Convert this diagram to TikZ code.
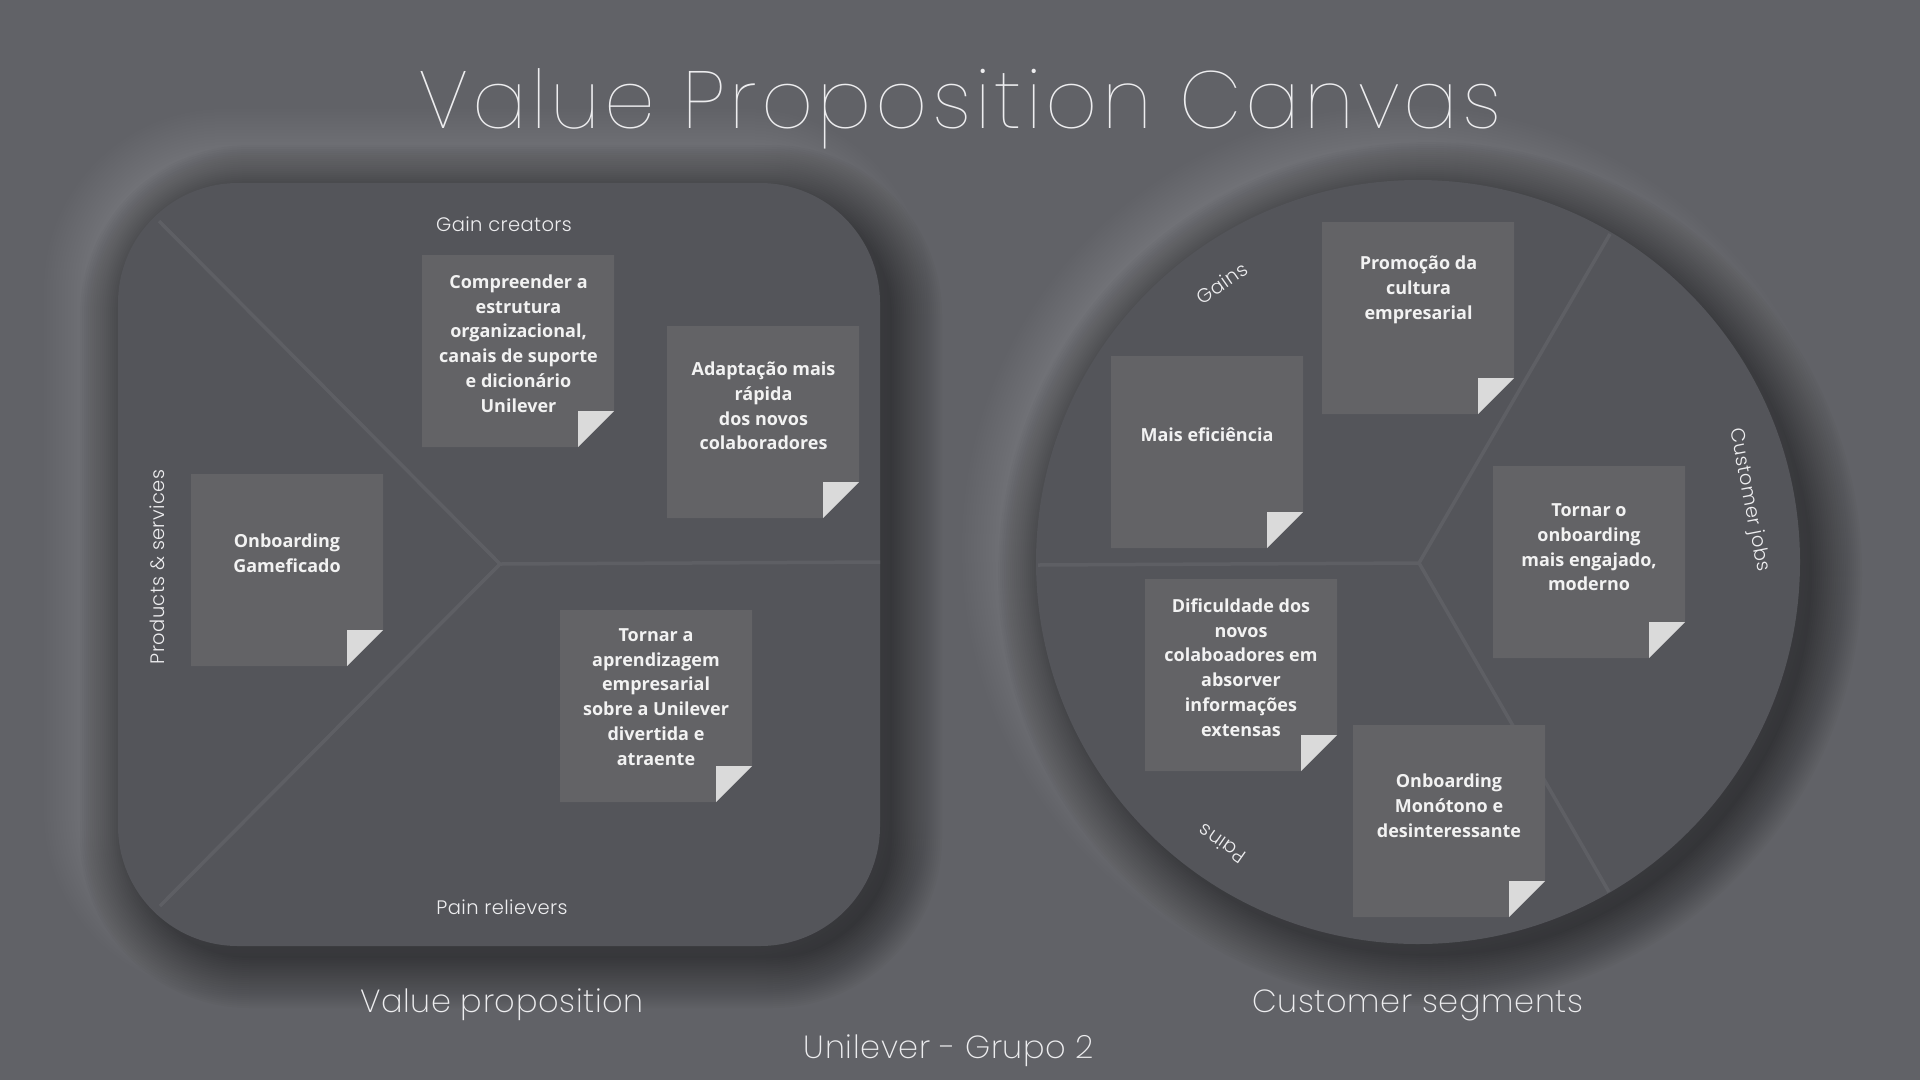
\documentclass[tikz,border=0pt]{standalone}
\usepackage{fontspec}
\newfontfamily\popl[LetterSpace=2]{Poppins Light}
\newfontfamily\popxl[LetterSpace=2]{Poppins ExtraLight}
\newfontfamily\poptitle[LetterSpace=5]{Poppins Thin}
\newfontfamily\osans{Open Sans}
\definecolor{bgc}{HTML}{616267}
\definecolor{shapec}{HTML}{54555A}
\definecolor{linec}{HTML}{5E5F64}
\definecolor{notec}{HTML}{636366}
\definecolor{foldc}{HTML}{DADADA}
\definecolor{txtc}{HTML}{F2F2F2}
\definecolor{lblc}{HTML}{EDEDEF}
\tikzset{
  notebg/.style={minimum width=192pt,minimum height=192pt,inner sep=0pt,outer sep=0pt,anchor=north west},
  notetext/.style={font=\osans\bfseries\fontsize{18}{24.8}\selectfont,text=txtc,align=center,inner sep=0pt},
  lbl/.style={font=\popl\fontsize{19.5}{22}\selectfont,text=lblc,inner sep=0pt},
  biglbl/.style={font=\popxl\fontsize{32}{40}\selectfont,text=lblc,inner sep=0pt,anchor=base},
  divline/.style={draw=linec,line width=3.5pt},
}
\newcommand\stickynote[3]{%
  \node[notebg] (#1) at (#2,#3) {};
  \fill[notec] (#1.north west) -- (#1.north east) -- ([yshift=36pt]#1.south east)
     -- ([xshift=-36pt]#1.south east) -- (#1.south west) -- cycle;
  \fill[foldc] ([xshift=-36pt,yshift=36pt]#1.south east) -- ([yshift=36pt]#1.south east)
     -- ([xshift=-36pt]#1.south east) -- cycle;
}
\begin{document}
\begin{tikzpicture}[x=1pt,y=-1pt]
\fill[bgc] (0,0) rectangle (1920,1080);
\useasboundingbox (0,0) rectangle (1920,1080);
% soft shadows
\foreach \e in {0,3,...,60} {
  \pgfmathsetmacro\rr{120+\e}
  \fill[white,opacity=0.008,rounded corners=\rr pt] (118-14-\e,183-14-\e) rectangle (880-14+\e,946-14+\e);
  \fill[white,opacity=0.008] (1418-14,562-14) circle[radius=382+\e];
}
\foreach \e in {0,2,...,50} {
  \pgfmathsetmacro\rr{120+\e}
  \fill[black,opacity=0.018,rounded corners=\rr pt] (118+12-\e,183+12-\e) rectangle (880+12+\e,946+12+\e);
  \fill[black,opacity=0.018] (1418+12,562+12) circle[radius=382+\e];
}
% main shapes
\node[fill=shapec,rounded corners=120pt,minimum width=762pt,minimum height=763pt,inner sep=0pt] (vp) at (499,564.5) {};
\node[fill=shapec,circle,minimum size=764pt,inner sep=0pt] (cs) at (1418,562) {};
% dividers square
\coordinate (vpc) at (500,564);
\coordinate (vptl) at (159,221);
\coordinate (vpbl) at (160,906);
\coordinate (vpr) at (880,562);
\draw[divline] (vptl) -- (vpc) -- (vpbl);
\draw[divline] (vpc) -- (vpr);
% dividers circle
\coordinate (csc) at (1419,563);
\coordinate (csl) at (1038,565);
\coordinate (csu) at (1610,234);
\coordinate (csd) at (1609,892);
\draw[divline] (csl) -- (csc) -- (csu);
\draw[divline] (csc) -- (csd);
% title
\node[font=\poptitle\fontsize{81}{90}\selectfont,text=lblc,anchor=base,inner sep=0pt] (title) at (960,128) {Value Proposition Canvas};
% section labels
\node[lbl] (gc) at (504,224) {Gain creators};
\node[lbl] (pr) at (502,907) {Pain relievers};
\node[lbl,rotate=90] (ps) at (157,567) {Products \& services};
\node[lbl,rotate=35] (gains) at (1222,283) {Gains};
\node[lbl,rotate=145] (pains) at (1222,844) {Pains};
\node[lbl,rotate=-79] (cj) at (1749,500) {Customer jobs};
\node[biglbl] (vpl) at (502,1012) {Value proposition};
\node[biglbl] (csl2) at (1418,1012) {Customer segments};
\node[biglbl] (sub) at (949,1058) {Unilever - Grupo 2};
% notes left
\stickynote{n1}{422}{255}
\stickynote{n2}{667}{326}
\stickynote{n3}{191}{474}
\stickynote{n4}{560}{610}
% notes right
\stickynote{n5}{1322}{222}
\stickynote{n6}{1111}{356}
\stickynote{n7}{1493}{466}
\stickynote{n8}{1145}{579}
\stickynote{n9}{1353}{725}
% note texts
\node[notetext] (t1) at (518.5,343.5) {Compreender a\\estrutura\\organizacional,\\canais de suporte\\e dicionário\\Unilever};
\node[notetext] (t2) at (763.5,406) {Adaptação mais\\rápida\\dos novos\\colaboradores};
\node[notetext] (t3) at (287,553.5) {Onboarding\\Gameficado};
\node[notetext] (t4) at (656,697) {Tornar a\\aprendizagem\\empresarial\\sobre a Unilever\\divertida e\\atraente};
\node[notetext] (t5) at (1418.5,290) {Promoção da\\cultura\\empresarial};
\node[notetext] (t6) at (1207,434.7) {Mais eficiência};
\node[notetext] (t7) at (1589,547.4) {Tornar o\\onboarding\\mais engajado,\\moderno};
\node[notetext] (t8) at (1241,667.4) {Dificuldade dos\\novos\\colaboadores em\\absorver\\informações\\extensas};
\node[notetext] (t9) at (1449,805.7) {Onboarding\\Monótono e\\desinteressante};
\end{tikzpicture}
\end{document}
